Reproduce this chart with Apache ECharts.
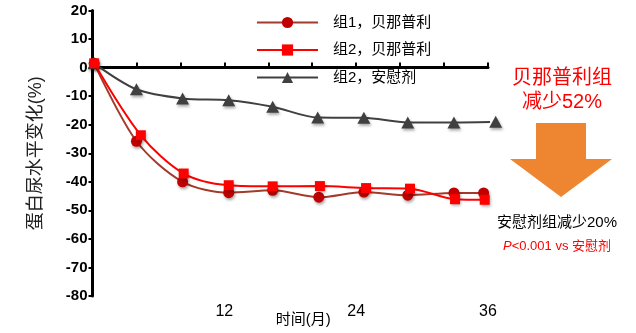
<!DOCTYPE html>
<html>
<head>
<meta charset="utf-8">
<script src="https://cdn.jsdelivr.net/npm/echarts@6/dist/echarts.min.js"></script>
<style>
  html, body { margin: 0; padding: 0; background: #fff; }
  #chart { width: 636px; height: 333px; }
</style>
</head>
<body>
<div id="chart"></div>
<script>
// Proteinuria change over time, three treatment groups
var seriesNames = ['组1，贝那普利', '组2，贝那普利', '组2，安慰剂'];

var group1Months = [0.15, 4.0, 8.2, 12.4, 16.4, 20.6, 24.7, 28.7, 32.9, 35.6];
var group1Values = [1.5, -25.8, -40.0, -43.8, -43.0, -45.4, -43.6, -44.7, -43.9, -43.9];

var group2Months = [0.15, 4.4, 8.3, 12.4, 16.4, 20.7, 24.9, 28.9, 33.0, 35.7];
var group2Values = [1.5, -23.7, -37.1, -41.2, -41.6, -41.5, -42.2, -42.4, -46.1, -46.3];

var placeboMonths = [0.15, 4.0, 8.2, 12.4, 16.4, 20.5, 24.7, 28.7, 32.9, 36.7];
var placeboValues = [1.5, -7.6, -10.8, -11.4, -13.7, -17.5, -17.6, -19.2, -19.2, -19.0];

var xLabelMonths = [12, 24, 36];

function pairs(xs, ys) {
  return xs.map(function (x, i) { return [x, ys[i]]; });
}

var cjk = '"Liberation Sans", Arial, "Noto Sans CJK SC", sans-serif';
var markerShadow = {
  shadowColor: 'rgba(0,0,0,0.35)',
  shadowBlur: 3,
  shadowOffsetX: 1,
  shadowOffsetY: 2
};

var chart = echarts.init(document.getElementById('chart'), null, { renderer: 'canvas' });

chart.setOption({
  animation: false,
  backgroundColor: '#ffffff',
  textStyle: { fontFamily: cjk },
  grid: {
    left: 92.5, right: 148, top: 10.5, bottom: 37,
    containLabel: false,
    outerBoundsMode: 'none'
  },
  legend: {
    orient: 'vertical',
    left: 256,
    top: 15,
    padding: 0,
    itemWidth: 61,
    itemHeight: 14,
    itemGap: 12.5,
    textStyle: {
      fontFamily: cjk,
      fontSize: 15,
      color: '#000',
      lineHeight: 14,
      padding: [0, 0, 0, 10]
    },
    data: seriesNames
  },
  xAxis: {
    type: 'value',
    min: 0,
    max: 36,
    interval: 4,
    name: '时间(月)',
    nameLocation: 'middle',
    nameGap: 16,
    nameMoveOverlap: false,
    nameTextStyle: { fontFamily: cjk, fontSize: 15, color: '#000', padding: [0, 0, 0, 26] },
    axisLine: { lineStyle: { color: '#000', width: 3 } },
    axisTick: { inside: true, length: 5, lineStyle: { color: '#000', width: 2 } },
    splitLine: { show: false },
    axisLabel: {
      fontFamily: cjk,
      fontSize: 16,
      color: '#000',
      margin: 8,
      formatter: function (v) { return xLabelMonths.indexOf(v) >= 0 ? String(v) : ''; }
    }
  },
  yAxis: {
    type: 'value',
    min: -80,
    max: 20,
    interval: 10,
    name: '蛋白尿水平变化(%)',
    nameLocation: 'middle',
    nameRotate: 90,
    nameGap: 47.5,
    nameMoveOverlap: false,
    nameTextStyle: { fontFamily: cjk, fontSize: 18, color: '#222' },
    axisLine: { onZero: false, lineStyle: { color: '#000', width: 3 } },
    axisTick: { inside: false, length: 4, lineStyle: { color: '#000', width: 2 } },
    splitLine: { show: false },
    axisLabel: {
      fontFamily: cjk,
      fontSize: 15,
      fontWeight: 'bold',
      color: '#000',
      margin: 5
    }
  },
  series: [
    {
      name: seriesNames[0],
      type: 'line',
      data: pairs(group1Months, group1Values),
      smooth: 0.3,
      clip: false,
      z: 2,
      symbol: 'circle',
      symbolSize: 11,
      lineStyle: { color: '#A33A2A', width: 2 },
      itemStyle: Object.assign({ color: '#C00000' }, markerShadow)
    },
    {
      name: seriesNames[1],
      type: 'line',
      data: pairs(group2Months, group2Values),
      smooth: 0.3,
      clip: false,
      z: 4,
      symbol: 'rect',
      symbolSize: 10,
      lineStyle: { color: '#FF0000', width: 2 },
      itemStyle: Object.assign({ color: '#FF0000' }, markerShadow)
    },
    {
      name: seriesNames[2],
      type: 'line',
      data: pairs(placeboMonths, placeboValues),
      smooth: 0.3,
      clip: false,
      z: 3,
      symbol: 'triangle',
      symbolSize: [13, 12],
      lineStyle: { color: '#404040', width: 2 },
      itemStyle: Object.assign({ color: '#404040' }, markerShadow)
    }
  ],
  graphic: [
    {
      type: 'text',
      style: {
        x: 562, y: 78,
        text: '贝那普利组',
        fill: '#FF0000',
        fontFamily: cjk,
        fontSize: 20,
        textAlign: 'center',
        textVerticalAlign: 'middle'
      }
    },
    {
      type: 'text',
      style: {
        x: 562, y: 102,
        text: '减少52%',
        fill: '#FF0000',
        fontFamily: cjk,
        fontSize: 20,
        textAlign: 'center',
        textVerticalAlign: 'middle'
      }
    },
    {
      type: 'polygon',
      shape: {
        points: [[536, 123], [586, 123], [586, 159], [612, 159], [561, 197], [510, 159], [536, 159]]
      },
      style: { fill: '#ED8531' }
    },
    {
      type: 'text',
      style: {
        x: 557, y: 223,
        text: '安慰剂组减少20%',
        fill: '#000',
        fontFamily: cjk,
        fontSize: 15,
        textAlign: 'center',
        textVerticalAlign: 'middle'
      }
    },
    {
      type: 'text',
      style: {
        x: 557, y: 246,
        text: '{i|P}<0.001 vs 安慰剂',
        fill: '#FF0000',
        fontFamily: cjk,
        fontSize: 13,
        textAlign: 'center',
        textVerticalAlign: 'middle',
        rich: {
          i: { fontStyle: 'italic', fill: '#FF0000', fontSize: 13, fontFamily: cjk }
        }
      }
    }
  ]
});
</script>
</body>
</html>
